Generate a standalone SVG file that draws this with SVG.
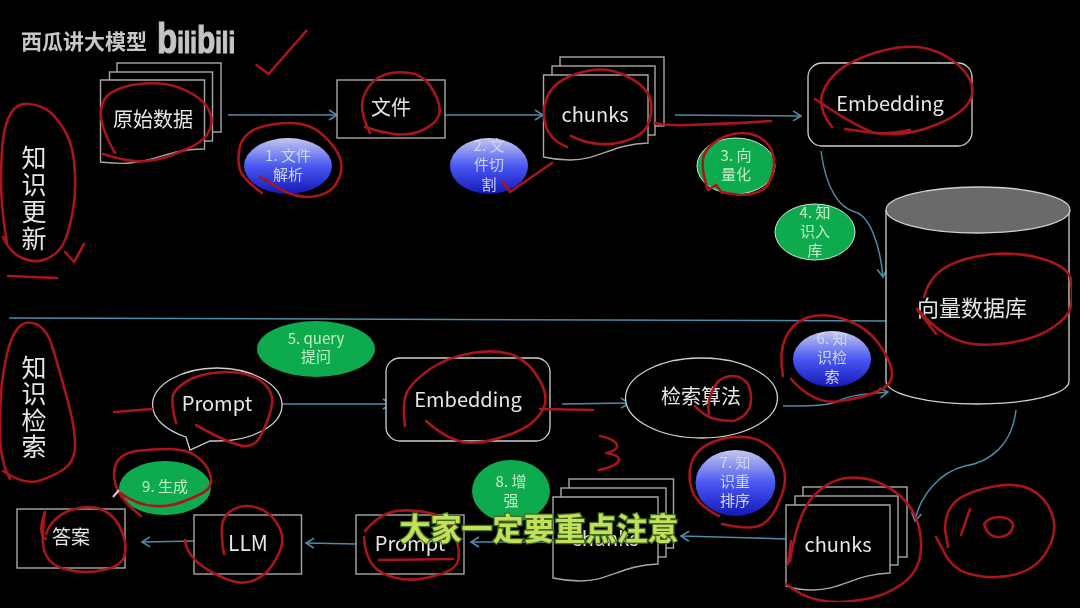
<svg xmlns="http://www.w3.org/2000/svg" width="1080" height="608" viewBox="0 0 1080 608">
<style>
text{font-family:"Noto Sans CJK SC","Noto Sans",sans-serif;text-anchor:middle;dominant-baseline:central;fill:#e6e6e6;transform:translateY(-1.5px)}
.b{fill:#000;stroke:#a8a8a8;stroke-width:1.4}
.o{fill:#000;stroke:#cfcfcf;stroke-width:1.3}
.c{fill:none;stroke:#4f8ba6;stroke-width:1.5;marker-end:url(#a)}
.g{fill:#10ab4e}
.u{fill:url(#bl)}
.lg text{font-size:15px;fill:#c4ecc8}
.lb text{font-size:15px;fill:#cfd8f2}
.t20{font-size:20px}
.t25{font-size:25px}
.r{fill:none;stroke:#a8141f;stroke-width:2.6;stroke-linecap:round;stroke-linejoin:round}
</style>
<defs>
<marker id="a" markerUnits="userSpaceOnUse" markerWidth="14" markerHeight="14" refX="9" refY="6" orient="auto"><path d="M1,1 L9,6 L1,11" fill="none" stroke="#4f8ba6" stroke-width="1.6"/></marker>
<linearGradient id="bl" x1="0" y1="0" x2="0" y2="1"><stop offset="0" stop-color="#c4c8ee"/><stop offset=".5" stop-color="#4a58f2"/><stop offset="1" stop-color="#1418b8"/></linearGradient>
<filter id="soft" x="0" y="0" width="100%" height="100%"><feGaussianBlur stdDeviation="0.4"/></filter>
</defs>
<rect width="1080" height="608" fill="#000"/>

<g filter="url(#soft)">
<g id="watermark">
<text x="84" y="41" style="font-size:21px;font-weight:700;fill:#c8c8c8">西瓜讲大模型</text>
<text x="157" y="54" textLength="78" lengthAdjust="spacingAndGlyphs" style="font-family:'Liberation Sans',sans-serif;font-size:30px;font-weight:700;fill:#c4c4c4;stroke:#c4c4c4;stroke-width:1.2;text-anchor:start;dominant-baseline:alphabetic"><tspan style="font-size:42px">b</tspan>ili<tspan style="font-size:38px">b</tspan>ili</text>
</g>

<g id="connectors">
<path class="c" d="M228,115 L337,115"/>
<path class="c" d="M433,115 L543,115"/>
<path class="c" d="M675,115 L801,116"/>
<path class="c" d="M821,151 C826,190 840,208 855,212 C870,216 880,245 883,277"/>
<path d="M9,318 L889,321" fill="none" stroke="#4f8ba6" stroke-width="1.5"/>
<path class="c" d="M282,404 L391,404"/>
<path class="c" d="M562,404 L629,403"/>
<path class="c" d="M783,406 C805,406 825,406 836,402 C850,394 870,394 888,392"/>
<path class="c" d="M1016,410 C1012,445 990,462 965,466 C940,472 920,495 915,521"/>
<path class="c" d="M786,539 L681,536"/>
<path class="c" d="M553,542 L471,542"/>
<path class="c" d="M356,544 L306,543"/>
<path class="c" d="M194,541 L142,542"/>
</g>

<g id="n-update"><text class="t25" x="34" y="157">知</text><text class="t25" x="34" y="184">识</text><text class="t25" x="34" y="211">更</text><text class="t25" x="34" y="238">新</text></g>
<g id="n-retrieve"><text class="t25" x="34" y="367">知</text><text class="t25" x="34" y="393">识</text><text class="t25" x="34" y="420">检</text><text class="t25" x="34" y="446">索</text></g>

<g id="n-raw">
<rect class="b" x="117" y="63" width="104" height="69"/>
<rect class="b" x="109.500" y="72" width="103" height="69"/>
<path class="b" d="M100.500,80 H204.500 V149 C170,149 160,160 130,163 C118,164 110,163 100.500,162 Z"/>
<text class="t20" x="153" y="120">原始数据</text>
</g>
<g id="n-file"><rect class="b" x="337" y="80" width="108" height="58"/><text class="t20" x="391" y="108">文件</text></g>
<g id="n-chunks1">
<rect class="b" x="560" y="57" width="104" height="69"/>
<rect class="b" x="552" y="66" width="103" height="69"/>
<path class="b" d="M543.500,75 H648 V143 C612,144 600,160 570,160 C560,160 552,159 543.500,157 Z"/>
<text class="t20" x="595" y="115">chunks</text>
</g>
<g id="n-embed1"><rect class="o" x="808" y="63" width="164" height="83" rx="14"/><text class="t20" x="890" y="104">Embedding</text></g>
<g id="n-s1" class="lb"><ellipse class="u" cx="288" cy="166" rx="44" ry="28"/><text x="288" y="156">1. 文件</text><text x="288" y="175">解析</text></g>
<g id="n-s2" class="lb"><ellipse class="u" cx="489" cy="166" rx="39" ry="28"/><text x="489" y="146">2. 文</text><text x="489" y="165">件切</text><text x="489" y="185">割</text></g>
<g id="n-s3" class="lg"><ellipse class="g" cx="736" cy="166" rx="39" ry="28" stroke="#cfe8cf"/><text x="736" y="156">3. 向</text><text x="736" y="175">量化</text></g>
<g id="n-s4" class="lg"><ellipse class="g" cx="815" cy="232" rx="40" ry="28" stroke="#cfe8cf"/><text x="815" y="213">4. 知</text><text x="815" y="232">识入</text><text x="815" y="251">库</text></g>
<g id="n-db">
<path class="o" d="M886,210 V381 C886,394 927,404 978,404 C1029,404 1069,394 1069,381 V210" fill="none"/>
<ellipse cx="978" cy="210" rx="92" ry="23" fill="#6b6b6b" stroke="#cfcfcf" stroke-width="1.3"/>
<text style="font-size:22px" x="972" y="307">向量数据库</text>
</g>
<g id="n-s5" class="lg"><ellipse class="g" cx="316" cy="349" rx="59" ry="28"/><text x="316" y="339">5. query</text><text x="316" y="357">提问</text></g>
<g id="n-prompt1">
<path class="o" d="M186,437 C165,430 152.500,418 152.500,405 C152.500,385 181,368 217,368 C253,368 282,385 282,405 C282,425 253,441 217,441 L210,441 L190,450 Z"/>
<text class="t20" x="217" y="404">Prompt</text>
</g>
<g id="n-embed2"><rect class="o" x="386" y="358" width="164" height="83" rx="14"/><text class="t20" x="468" y="400">Embedding</text></g>
<g id="n-search"><ellipse class="o" cx="701.500" cy="398" rx="76" ry="40"/><text class="t20" x="701" y="397">检索算法</text></g>
<g id="n-s6" class="lb"><ellipse class="u" cx="832" cy="359" rx="39" ry="28"/><text x="832" y="339">6. 知</text><text x="832" y="358">识检</text><text x="832" y="377">索</text></g>
<g id="n-s7" class="lb"><ellipse class="u" cx="735.500" cy="483" rx="40" ry="33"/><text x="735" y="463">7. 知</text><text x="735" y="482">识重</text><text x="735" y="501">排序</text></g>
<g id="n-s8" class="lg"><ellipse class="g" cx="511" cy="491" rx="39" ry="31"/><text x="511" y="482">8. 增</text><text x="511" y="501">强</text></g>
<g id="n-s9" class="lg"><ellipse class="g" cx="165" cy="488" rx="46" ry="27"/><text x="165" y="487">9. 生成</text></g>
<g id="n-answer"><rect class="b" x="17" y="509" width="108" height="59"/><text style="font-size:19px" x="71" y="537">答案</text></g>
<g id="n-llm"><rect class="b" x="194" y="515" width="107.500" height="59"/><text style="font-size:21px" x="248" y="543">LLM</text></g>
<g id="n-prompt2"><rect class="b" x="356" y="515" width="108" height="59"/><text class="t20" x="410" y="544">Prompt</text></g>
<g id="n-chunks3">
<rect class="b" x="569" y="479" width="104.500" height="69"/>
<rect class="b" x="561" y="488" width="105" height="69"/>
<path class="b" d="M553,497 H658 V564 C622,565 610,581 580,581 C570,581 562,580 553,578 Z"/>
<text class="t20" x="605" y="539">chunks</text>
</g>
<g id="n-chunks2">
<rect class="b" x="803" y="487" width="104" height="70"/>
<rect class="b" x="795" y="496" width="103" height="69"/>
<path class="b" d="M786,505 H890 V573 C855,574 842,590 812,590 C802,590 795,589 786,586 Z"/>
<text class="t20" x="838" y="545">chunks</text>
</g>

<g id="annotations" class="r">
<path d="M256.500,65 L268.600,74 L306.500,30.700"/>
<path d="M3,237 Q10,253 22,258 Q34,263 43,260 Q52,258 60,249 Q67,240 71,220 Q76,200 75,173 Q74,147 66,133 Q59,120 50,112 Q41,105 29,104 Q17,103 11,113 Q5,123 3,140 Q1,157 1,182 Q1,207 7,243"/>
<path d="M65,252 L74,262 L84,244"/>
<path d="M8,276 L57,278"/>
<path d="M115,153 Q102,130 101,116 Q100,103 108,95 Q117,88 132,85 Q148,82 165,84 Q182,87 194,95 Q207,103 210,113 Q214,123 208,133 Q203,143 182,151 Q162,160 146,161 Q131,163 103,154"/>
<path d="M262,193 Q244,180 240,170 Q237,160 240,146 Q244,133 258,128 Q272,123 291,123 Q310,123 323,135 Q336,147 340,158 Q344,170 337,182 Q331,195 310,197 Q295,197 282,190 L260,177"/>
<path d="M370,133 Q362,117 362,105 Q363,93 371,84 Q379,75 391,73 Q403,71 415,74 Q427,78 434,92 Q442,107 439,115 Q437,123 423,130 Q410,136 394,134 Q379,132 365,127"/>
<path d="M503,182 L510,192 L552,163"/>
<path d="M567,147 Q550,140 546,126 Q542,113 546,100 Q550,87 564,79 Q578,72 593,70 Q609,68 624,75 Q640,82 647,92 Q654,103 650,118 Q647,133 631,139 Q616,145 600,144 Q585,143 571,136"/>
<path d="M654,123 Q670,126 688,125 Q726,124 771,121"/>
<path d="M722,193 L716,185 L708,190 Q700,167 704,155 Q709,143 726,136 Q743,130 757,136 Q771,143 773,155 Q776,167 771,178 Q767,190 755,193 Q743,197 722,192"/>
<path d="M832,127 Q821,113 821,100 Q822,87 836,73 Q850,60 881,51 Q912,43 932,50 Q953,57 965,72 Q977,88 970,100 Q964,113 938,124 Q912,135 891,134 Q871,133 845,129"/>
<path d="M815,99 Q850,123 874,133 Q890,134 910,130"/>
<path d="M924,297 Q929,277 946,267 Q964,257 993,254 Q1022,252 1046,260 Q1070,268 1071,281 Q1073,295 1071,306 Q1069,317 1052,328 Q1036,339 1008,343 Q981,347 963,342 Q946,337 931,323 Q924,316 917,309 L936,334"/>
<path d="M3,471 Q24,485 38,481 Q52,477 64,469 Q76,461 75,441 Q74,421 65,391 Q57,361 52,346 Q48,331 38,325 Q28,320 21,325 Q14,331 9,346 Q5,361 2,382 Q0,404 0,432 Q0,461 10,479"/>
<path d="M176,423 Q171,404 173,395 Q176,387 191,379 Q207,372 227,372 Q248,372 261,381 Q274,391 272,404 Q270,417 262,433 Q255,450 239,445 Q224,441 196,425"/>
<path d="M114,412 L152,409"/>
<path d="M141,516 Q120,499 116,486 Q112,474 116,464 Q120,454 136,451 Q152,449 169,449 Q186,449 196,456 Q207,464 210,474 Q213,484 208,489 Q203,494 187,500 Q172,507 155,506 Q138,506 119,492"/>
<path d="M45,512 Q37,534 46,539"/>
<path d="M46,534 Q52,517 71,510 Q90,504 103,510 Q117,517 122,532 Q128,547 124,557 Q120,567 103,570 Q86,574 69,570 Q52,567 46,555 Q40,544 45,512"/>
<path d="M224,554 Q220,531 223,521 Q227,511 239,507 Q251,504 263,510 Q275,517 280,529 Q286,541 277,557 Q269,574 255,580 Q241,586 224,578 Q207,571 196,561 Q186,551 185,540"/>
<path d="M365,531 Q379,514 396,511 Q413,509 430,513 Q448,517 454,534 Q461,551 458,561 Q455,571 434,576 Q413,582 396,578 Q379,574 372,564 Q365,554 364,537"/>
<path d="M379,560 L453,559"/>
<path d="M405,426 Q402,404 407,392 Q413,381 430,369 Q448,357 472,353 Q496,349 513,355 Q530,362 540,381 Q551,400 540,414 Q530,429 502,437 Q475,446 459,441 Q444,437 426,421"/>
<path d="M540,409 L593,410"/>
<path d="M695,406 Q700,412 709,417 Q720,421 733,421 Q745,418 750,407 Q753,395 748,384 Q742,376 733,376 Q722,376 716,384 Q706,400 709,414"/>
<path d="M783,376 Q779,354 785,339 Q791,324 806,318 Q822,312 844,319 Q867,327 879,344 Q891,361 892,372 Q893,384 880,390 Q867,397 841,401 Q815,406 791,379"/>
<path d="M600,436 C610,438 618,442 617,447 C616,451 610,452 606,453 C612,454 620,456 619,460 C618,465 608,468 599,470"/>
<path d="M719,516 Q695,504 691,487 Q687,471 694,457 Q702,444 722,439 Q743,434 758,440 Q774,447 781,462 Q789,477 781,497 Q774,517 763,524 Q753,531 722,524"/>
<path d="M790,561 Q797,517 811,499 Q826,481 846,478 Q867,476 884,485 Q902,494 912,510 Q922,527 921,549 Q920,571 902,584 Q884,597 860,600 Q836,604 819,600 Q802,597 786,584"/>
<path d="M791,541 L788,564"/>
<path d="M936,537 L944,552 Q953,571 974,575 Q995,580 1017,574 Q1039,567 1048,549 Q1058,531 1052,514 Q1046,497 1030,489 Q1015,482 991,487 Q967,492 956,501 Q945,511 945,529 L948,547"/>
<path d="M970,509 L961,535"/>
<path d="M984,524 Q988,538 1000,537 Q1013,535 1013,524 Q1010,517 998,517 Q988,518 984,524"/>
</g>
<path d="M113,497 L119,490" stroke="#e8c8d8" stroke-width="2" fill="none"/>

<g id="subtitle">
<text x="539" y="528" style="font-size:31px;font-weight:700;fill:#c4e05a;stroke:#3f6a20;stroke-width:2.500;paint-order:stroke">大家一定要重点注意</text>
</g>
</g>
</svg>
